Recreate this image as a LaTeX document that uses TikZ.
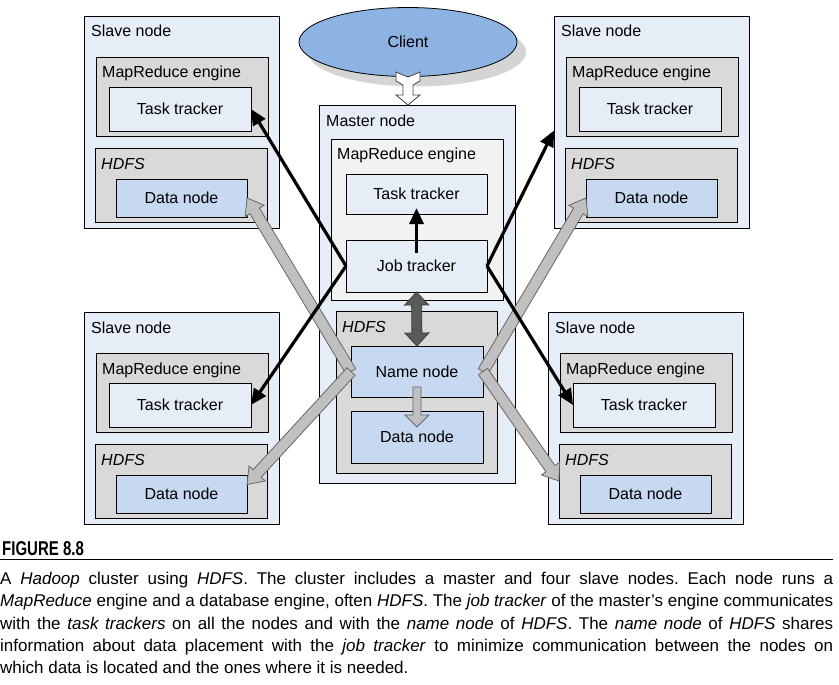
\documentclass[tikz,border=0pt]{standalone}
\usepackage{fontspec}
\setmainfont{Liberation Sans}
\newfontfamily\capfont{Liberation Sans}
\newfontfamily\headfont[FakeStretch=0.75]{Liberation Sans}
\usetikzlibrary{calc,arrows.meta,shapes.geometric,shadows}

\definecolor{slavebg}{HTML}{E6EDF7}
\definecolor{enginebg}{HTML}{D9D9D9}
\definecolor{masterbg}{HTML}{F2F2F2}
\definecolor{databg}{HTML}{C6D9F0}
\definecolor{clientbg}{HTML}{8DB3E2}
\definecolor{arrowgray}{HTML}{C0C0C0}
\definecolor{arrowdark}{HTML}{5A5A5A}

\hyphenpenalty=10000
\exhyphenpenalty=10000
\frenchspacing

% block arrow: [style]{from}{to}{shaft half width}{head half width}{head length}
\newcommand{\blockarrow}[6][]{%
\path[#1] let \p1=($(#3)-(#2)$), \n1={atan2(\y1,\x1)} in
 ($(#2)+(\n1+90:#4pt)$) -- ($(#3)+(\n1+180:#6pt)+(\n1+90:#4pt)$)
 -- ($(#3)+(\n1+180:#6pt)+(\n1+90:#5pt)$) -- (#3)
 -- ($(#3)+(\n1+180:#6pt)+(\n1-90:#5pt)$) -- ($(#3)+(\n1+180:#6pt)+(\n1-90:#4pt)$)
 -- ($(#2)+(\n1-90:#4pt)$) -- cycle;
}
% same with a head on both ends
\newcommand{\dblockarrow}[6][]{%
\path[#1] let \p1=($(#3)-(#2)$), \n1={atan2(\y1,\x1)} in
 (#2) -- ($(#2)+(\n1:#6pt)+(\n1+90:#5pt)$) -- ($(#2)+(\n1:#6pt)+(\n1+90:#4pt)$)
 -- ($(#3)+(\n1+180:#6pt)+(\n1+90:#4pt)$) -- ($(#3)+(\n1+180:#6pt)+(\n1+90:#5pt)$) -- (#3)
 -- ($(#3)+(\n1+180:#6pt)+(\n1-90:#5pt)$) -- ($(#3)+(\n1+180:#6pt)+(\n1-90:#4pt)$)
 -- ($(#2)+(\n1:#6pt)+(\n1-90:#4pt)$) -- ($(#2)+(\n1:#6pt)+(\n1-90:#5pt)$) -- cycle;
}

\begin{document}
\begin{tikzpicture}[x=1pt, y=-1pt,
    font=\fontsize{16}{19}\selectfont,
    box/.style={draw, line width=0.8pt, inner sep=0, outer sep=0, anchor=north west},
    lbl/.style={inner sep=0, anchor=base west},
    garrow/.style={draw=black!60, fill=arrowgray, line width=0.8pt},
    darrow/.style={draw=black!75, fill=arrowdark, line width=0.8pt},
    barrow/.style={line width=3.2pt, -{Triangle[length=16pt,width=14pt]}},
]
\useasboundingbox (0,0) rectangle (839,685);

% slave nodes
\foreach \p/\x/\y in {TL/84/16, TR/554/16, BL/84/312, BR/548/312}{
\node[box, fill=slavebg, minimum width=195, minimum height=212] (s\p) at (\x,\y) {};
\node[lbl] (ls\p) at ($(s\p.north west)+(7,21)$) {Slave node};
\node[box, fill=enginebg, minimum width=172, minimum height=79] (m\p) at ($(s\p.north west)+(12,41)$) {};
\node[lbl] (lm\p) at ($(m\p.north west)+(6,21)$) {MapReduce engine};
\node[box, fill=slavebg, minimum width=142, minimum height=44] (t\p) at ($(s\p.north west)+(25,71)$) {Task tracker};
\node[box, fill=enginebg, minimum width=172, minimum height=74] (h\p) at ($(s\p.north west)+(11,132)$) {};
\node[lbl] (lh\p) at ($(h\p.north west)+(6,21)$) {\itshape HDFS};
\node[box, fill=databg, minimum width=131, minimum height=38] (d\p) at ($(s\p.north west)+(32,163)$) {Data node};
}

% master node
\node[box, fill=slavebg, minimum width=196, minimum height=378] (master) at (319,105) {};
\node[lbl] (lmaster) at ($(master.north west)+(7,22)$) {Master node};
\node[box, fill=masterbg, minimum width=172, minimum height=161] (mM) at (331,139) {};
\node[lbl] (lmM) at ($(mM.north west)+(6,21)$) {MapReduce engine};
\node[box, fill=slavebg, minimum width=141, minimum height=40] (tM) at (346,174) {Task tracker};
\node[box, fill=slavebg, minimum width=141, minimum height=52] (job) at (346,240) {Job tracker};
\node[box, fill=enginebg, minimum width=161, minimum height=162] (hM) at (336,311) {};
\node[lbl] (lhM) at ($(hM.north west)+(6,21)$) {\itshape HDFS};
\node[box, fill=databg, minimum width=132, minimum height=51] (name) at (351,346) {Name node};
\node[box, fill=databg, minimum width=132, minimum height=52] (dM) at (351,411) {Data node};

% client
\node[ellipse, draw, line width=0.8pt, fill=clientbg, minimum width=218, minimum height=69,
  drop shadow={shadow xshift=9pt, shadow yshift=-10pt, fill=black!17, opacity=1}] (client) at (408,42) {Client};
\coordinate (cin) at (client.south |- master.north);
\draw[fill=white, draw=black!75, line width=0.8pt, shift={(cin)}]
 (0,0) -- (12,-10) -- (5,-10) -- (5,-20) -- (12,-24) -- (12,-33) -- (0,-28)
 -- (-12,-33) -- (-12,-24) -- (-5,-20) -- (-5,-10) -- (-12,-10) -- cycle;

% name node to data nodes
\coordinate (dBLin) at ($(dBL.north east)!0.25!(dBL.south east)$);
\blockarrow[garrow]{name.west}{dTL.east}{5.5}{11}{15}
\blockarrow[garrow]{name.west}{dBLin}{5.5}{11}{15}
\blockarrow[garrow]{name.east}{dTR.west}{5.5}{11}{15}
\blockarrow[garrow]{name.east}{hBR.west}{5.5}{11}{15}
\coordinate (nd1) at ($(name.south)+(0,-10)$);
\coordinate (nd2) at ($(dM.north)+(0,16)$);
\blockarrow[garrow]{nd1}{nd2}{4}{12}{12}

% job tracker to task trackers
\coordinate (sTRin) at ($(sTR.north west)!0.54!(sTR.south west)$);
\draw[barrow] (job.west) -- (tTL.east);
\draw[barrow] (job.west) -- (tBL.east);
\draw[barrow] (job.east) -- (sTRin);
\draw[barrow] (job.east) -- (tBR.west);
\coordinate (jt1) at ($(job.north)+(0,13)$);
\coordinate (jt2) at ($(tM.south)+(0,-6)$);
\draw[barrow] (jt1) -- (jt2);

% job tracker <-> name node
\dblockarrow[darrow]{job.south}{name.north}{5}{12}{13}

% caption
\node[lbl, font=\headfont\fontsize{20}{22}\selectfont\bfseries] (fig) at (2,555) {FIGURE 8.8};
\draw[line width=1pt] (0,559) -- (833,559);
\node[anchor=north west, inner sep=0, text width=833pt, align=justify,
  font=\capfont\fontsize{17}{22.25}\selectfont] (cap) at (0,572)
{A \textit{Hadoop} cluster using \textit{HDFS}. The cluster includes a master and four slave nodes. Each node runs a\linebreak
\textit{MapReduce} engine and a database engine, often \textit{HDFS}. The \textit{job tracker} of the master’s engine communicates\linebreak
with the \textit{task trackers} on all the nodes and with the \textit{name node} of \textit{HDFS}. The \textit{name node} of \textit{HDFS} shares\linebreak
information about data placement with the \textit{job tracker} to minimize communication between the nodes on\linebreak
which data is located and the ones where it is needed.};
\end{tikzpicture}
\end{document}
